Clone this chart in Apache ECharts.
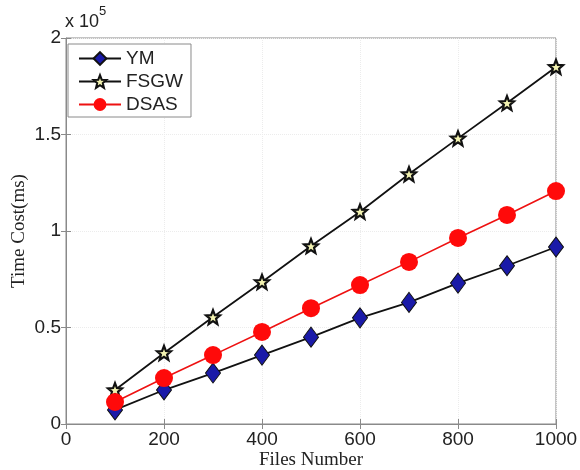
<!DOCTYPE html>
<html>
<head>
<meta charset="utf-8">
<script src="https://cdn.jsdelivr.net/npm/echarts@6/dist/echarts.min.js"></script>
<style>
  html, body { margin: 0; padding: 0; background: #fff; }
  #chart { width: 580px; height: 470px; }
</style>
</head>
<body>
<div id="chart"></div>
<script>
// files number (x) and time cost in ms for each method
const filesNumber = [100, 200, 300, 400, 500, 600, 700, 800, 900, 1000]
const ym   = [7300, 17600, 26400, 35700, 45000, 55000, 63000, 73000, 82000, 91700]
const fsgw = [17600, 36800, 55400, 73600, 92200, 110000, 129500, 148000, 166300, 185000]
const dsas = [11400, 23800, 35700, 47700, 60000, 72000, 84000, 96400, 108300, 120700]
const xTicks = [0, 200, 400, 600, 800, 1000]
const yTicks = [0, 0.5, 1, 1.5, 2]

const starPath = 'path://M50,0 L63,33 L98,35 L71,57 L80,92 L50,72 L20,92 L29,57 L2,35 L37,33 Z'

const chart = echarts.init(document.getElementById('chart'))
const tickFont = { fontFamily: 'Liberation Sans, Arial, sans-serif', fontSize: 19, color: '#222' }
const axisGrey = '#8a8a8a'

const pairs = arr => filesNumber.map((x, i) => [x, arr[i]])

chart.setOption({
  animation: false,
  grid: {
    left: 66, right: 24, top: 38, bottom: 46,
    outerBoundsMode: 'none',
    show: true, borderColor: axisGrey, borderWidth: 1
  },
  legend: {
    orient: 'vertical',
    left: 68,
    top: 44,
    padding: [5, 8, 3, 10],
    itemWidth: 42,
    itemHeight: 16,
    itemGap: 4,
    borderColor: axisGrey,
    borderWidth: 1,
    backgroundColor: '#fff',
    textStyle: { fontFamily: 'Liberation Sans, Arial, sans-serif', fontSize: 19, color: '#222' },
    data: ['YM', 'FSGW', 'DSAS']
  },
  graphic: [{
    type: 'text',
    left: 65,
    top: 5,
    style: {
      text: '{a|x 10}{b|5}',
      rich: {
        a: { fontFamily: 'Liberation Sans, Arial, sans-serif', fontSize: 18, fill: '#222', padding: [8, 0, 0, 0] },
        b: { fontFamily: 'Liberation Sans, Arial, sans-serif', fontSize: 13, fill: '#222', verticalAlign: 'top' }
      }
    }
  }],
  xAxis: [{
    type: 'value',
    min: 0, max: 1000, interval: 200,
    name: 'Files Number',
    nameLocation: 'middle',
    nameGap: 27,
    nameMoveOverlap: false,
    nameTextStyle: { fontFamily: 'Liberation Serif, Times New Roman, serif', fontSize: 19, color: '#222' },
    axisLine: { lineStyle: { color: axisGrey } },
    axisTick: { inside: true, length: 5, lineStyle: { color: axisGrey } },
    axisLabel: { ...tickFont, margin: 6, formatter: v => xTicks.includes(v) ? String(v) : '' },
    splitLine: { show: true, lineStyle: { color: '#ececec', type: 'dotted' } }
  }, {
    type: 'value', position: 'top',
    min: 0, max: 1000, interval: 200,
    axisLine: { show: false },
    axisTick: { inside: true, length: 5, lineStyle: { color: axisGrey } },
    axisLabel: { show: false },
    splitLine: { show: false }
  }],
  yAxis: [{
    type: 'value',
    min: 0, max: 200000, interval: 50000,
    name: 'Time Cost(ms)',
    nameLocation: 'middle',
    nameGap: 37,
    nameMoveOverlap: false,
    nameTextStyle: { fontFamily: 'Liberation Serif, Times New Roman, serif', fontSize: 19, color: '#222' },
    axisLine: { show: true, lineStyle: { color: axisGrey } },
    axisTick: { show: true, inside: true, length: 5, lineStyle: { color: axisGrey } },
    axisLabel: { ...tickFont, margin: 5, formatter: v => String(yTicks[Math.round(v / 50000)]) },
    splitLine: { show: true, lineStyle: { color: '#ececec', type: 'dotted' } }
  }, {
    type: 'value', position: 'right',
    min: 0, max: 200000, interval: 50000,
    axisLine: { show: false },
    axisTick: { show: true, inside: true, length: 5, lineStyle: { color: axisGrey } },
    axisLabel: { show: false },
    splitLine: { show: false }
  }],
  series: [{
    name: 'YM',
    type: 'line',
    data: pairs(ym),
    symbol: 'diamond',
    symbolSize: [15, 20],
    lineStyle: { color: '#111', width: 1.8 },
    itemStyle: { color: '#1a1aa8', borderColor: '#111', borderWidth: 1 },
    z: 3
  }, {
    name: 'FSGW',
    type: 'line',
    data: pairs(fsgw),
    symbol: starPath,
    symbolSize: 14,
    lineStyle: { color: '#111', width: 1.8 },
    itemStyle: { color: '#f2f2b0', borderColor: '#111', borderWidth: 2.2 },
    z: 4
  }, {
    name: 'DSAS',
    type: 'line',
    data: pairs(dsas),
    symbol: 'circle',
    symbolSize: 18,
    lineStyle: { color: '#ee1111', width: 1.6 },
    itemStyle: { color: '#ff0a0a', borderColor: '#ff0a0a', borderWidth: 0 },
    z: 5
  }]
})
</script>
</body>
</html>
